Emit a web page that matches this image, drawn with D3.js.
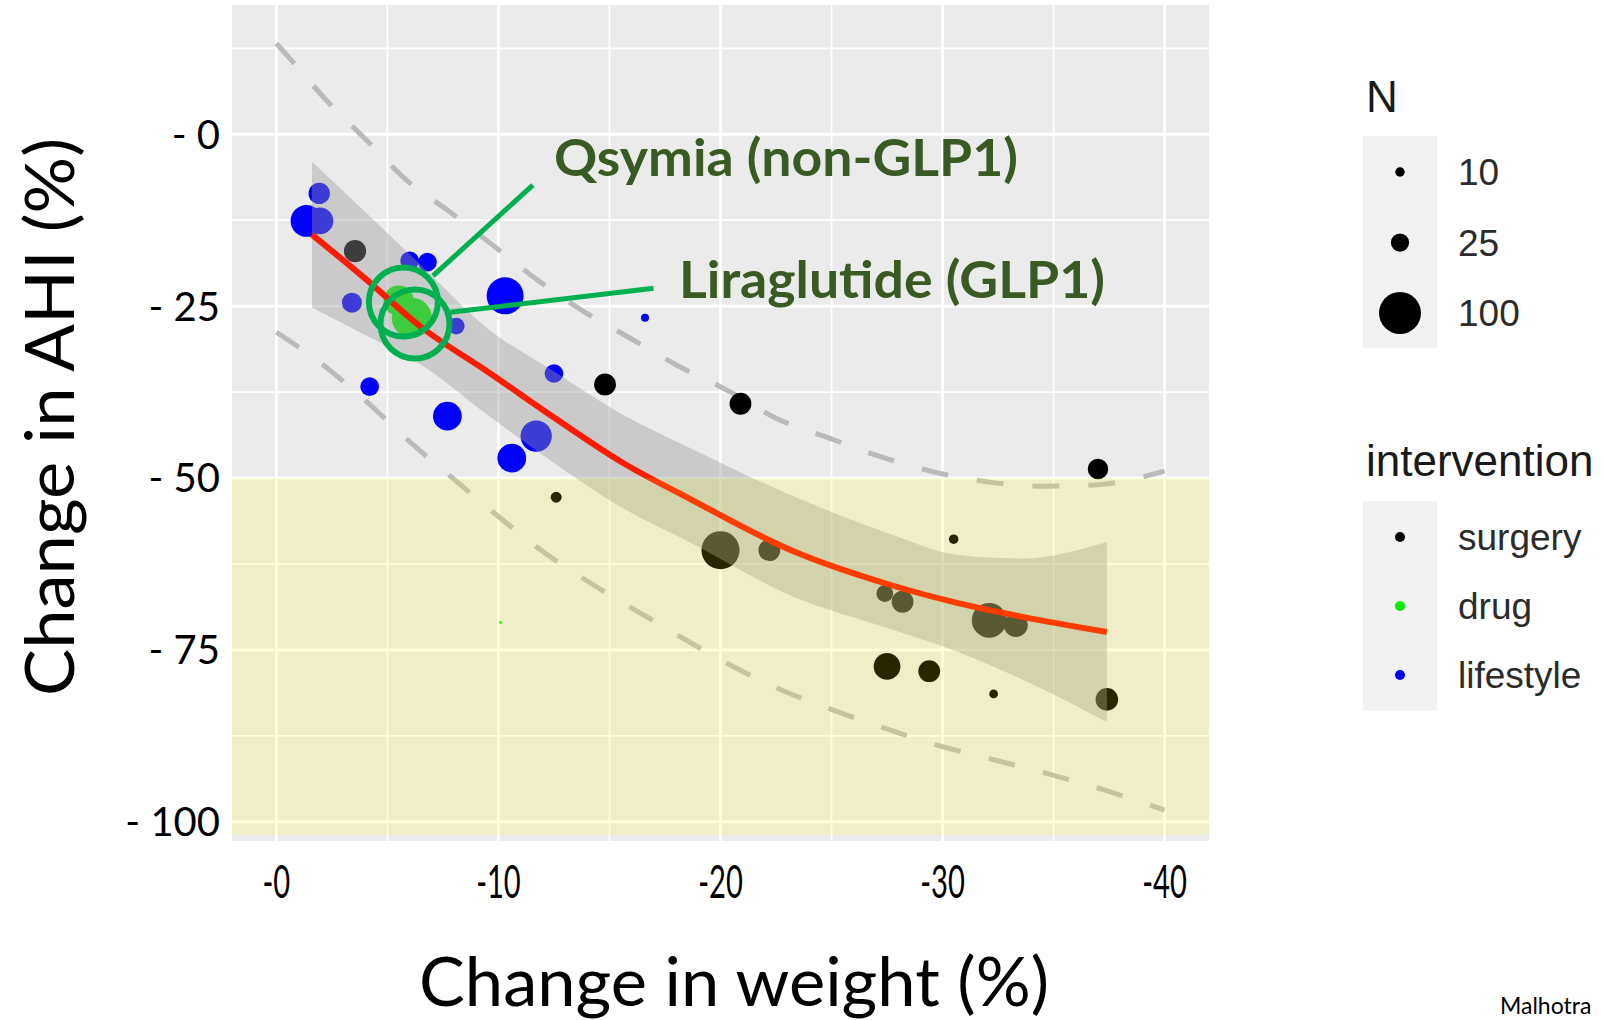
<!DOCTYPE html>
<html>
<head>
<meta charset="utf-8">
<script src="https://cdn.jsdelivr.net/npm/d3@7"></script>
<style>
body { margin: 0; background: #fff; }
svg { display: block; }
</style>
</head>
<body>
<svg id="chart" width="1604" height="1020"></svg>
<script>

// studies: [weight change %, AHI change %, N]
var lifestyle = [[-1.36,-12.6,62],[-1.96,-12.6,46],[-1.93,-8.6,32],[-3.4,-24.5,29],[-6.0,-18.4,26],[-6.8,-18.6,26],
    [-8.1,-27.9,22],[-10.3,-23.5,80],[-4.2,-36.7,26],[-16.6,-26.7,8],[-12.5,-34.8,26],[-7.7,-41.0,52],
    [-11.7,-43.9,60],[-10.6,-47.1,52]];
var surgery = [[-3.54,-17.0,34],[-14.8,-36.4,33],[-12.6,-52.8,12],[-20.0,-60.5,84],[-22.2,-60.5,33],[-20.9,-39.2,33],
    [-37.0,-48.7,30],[-30.5,-58.9,10],[-27.4,-66.8,22],[-28.2,-68.0,33],[-32.1,-70.7,72],[-33.3,-71.4,38],
    [-27.5,-77.4,46],[-29.4,-78.1,33],[-32.3,-81.4,9],[-37.4,-82.2,35]];
var drug = [[-5.5,-24.2,56],[-6.1,-26.7,92],[-10.1,-71.0,3]];

// smooth fit and its band
var fitX  = [-1.6, -4, -6.5, -9.5, -12.5, -15.5, -18.6, -23.1, -27.7, -30.7, -33.6, -37.4];
var fitY  = [-14.6, -21.0, -28.0, -34.5, -41.2, -47.6, -53.0, -60.4, -65.6, -68.2, -70.2, -72.4];
var fitLo = [-25.2, -29.2, -33.5, -40.8, -47.8, -54.2, -59.3, -67.0, -72.0, -75.3, -79.3, -85.5];
var fitHi = [-4.0, -11.3, -19.0, -28.2, -34.5, -40.6, -45.6, -52.4, -58.2, -61.2, -61.7, -59.3];

// prediction bounds (dashed)
var upX = [0, -0.53, -2.26, -4.07, -5.87, -7.81, -9.77, -11.8, -13.9, -15.9, -18.1, -20.4, -22.5, -24.9, -27.2, -29.6, -32.1, -34.5, -36.9, -40];
var upY = [13.2, 11.3, 4.9, -0.9, -6.7, -11.3, -16.2, -21.3, -25.9, -29.6, -33.7, -37.4, -41.3, -44.2, -46.9, -49.1, -50.6, -51.2, -51.0, -49.0];
var loX = [0, -2, -4, -6, -8, -10, -12, -14.5, -17, -20.5, -22.8, -25.1, -27.4, -29.8, -32.2, -34.6, -36.9, -40];
var loY = [-28.8, -33.3, -38.7, -44.7, -50.2, -55.6, -60.7, -66.0, -70.8, -77.3, -80.9, -83.8, -86.4, -88.9, -90.9, -92.9, -95.0, -98.3];

var xTicks = [0, -10, -20, -30, -40];
var yTicks = [0, -25, -50, -75, -100];
var sizeKeys = [10, 25, 100];
var groups = ["surgery", "drug", "lifestyle"];
var groupColours = ["#000000", "#00ee00", "#0000ff"];

var svg = d3.select("#chart");

var x = d3.scaleLinear().domain([2, -42]).range([232, 1209]);
var y = d3.scaleLinear().domain([18.8, -102.8]).range([5, 841]);
var r = d3.scaleSqrt().domain([4, 100]).range([2, 21]);
var colour = d3.scaleOrdinal().domain(groups).range(groupColours);

svg.append("clipPath").attr("id", "panel")
    .append("rect")
    .attr("x", x(2)).attr("y", y(18.8))
    .attr("width", x(-42) - x(2)).attr("height", y(-102.8) - y(18.8));

var panel = svg.append("g").attr("clip-path", "url(#panel)");

panel.append("rect")
    .attr("x", x(2)).attr("y", y(18.8))
    .attr("width", x(-42) - x(2)).attr("height", y(-102.8) - y(18.8))
    .attr("fill", "#ebebeb");

// grid
var xMinor = [-5, -15, -25, -35];
var yMinor = [12.5, -12.5, -37.5, -62.5, -87.5];

panel.selectAll(".vminor").data(xMinor).enter().append("line")
    .attr("x1", d => x(d)).attr("x2", d => x(d))
    .attr("y1", y(18.8)).attr("y2", y(-102.8))
    .attr("stroke", "#fff").attr("stroke-width", 1.8);
panel.selectAll(".hminor").data(yMinor).enter().append("line")
    .attr("y1", d => y(d)).attr("y2", d => y(d))
    .attr("x1", x(2)).attr("x2", x(-42))
    .attr("stroke", "#fff").attr("stroke-width", 1.8);
panel.selectAll(".vmajor").data(xTicks).enter().append("line")
    .attr("x1", d => x(d)).attr("x2", d => x(d))
    .attr("y1", y(18.8)).attr("y2", y(-102.8))
    .attr("stroke", "#fff").attr("stroke-width", 2.8);
panel.selectAll(".hmajor").data(yTicks).enter().append("line")
    .attr("y1", d => y(d)).attr("y2", d => y(d))
    .attr("x1", x(2)).attr("x2", x(-42))
    .attr("stroke", "#fff").attr("stroke-width", 2.8);

// dashed bounds
var line = d3.line().x(d => x(d[0])).y(d => y(d[1])).curve(d3.curveMonotoneX);

[d3.zip(upX, upY), d3.zip(loX, loY)].forEach(function (pts) {
    panel.append("path")
        .attr("d", line(pts))
        .attr("fill", "none")
        .attr("stroke", "#bababa")
        .attr("stroke-width", 5)
        .attr("stroke-dasharray", "27 29");
});

// points
var points = []
    .concat(lifestyle.map(d => ({ x: d[0], y: d[1], n: d[2], g: "lifestyle" })))
    .concat(surgery.map(d => ({ x: d[0], y: d[1], n: d[2], g: "surgery" })))
    .concat(drug.map(d => ({ x: d[0], y: d[1], n: d[2], g: "drug" })));

panel.append("g")
    .selectAll("circle")
    .data(points)
    .enter()
    .append("circle")
    .attr("cx", d => x(d.x))
    .attr("cy", d => y(d.y))
    .attr("r", d => r(d.n))
    .attr("fill", d => colour(d.g));

// band + fit
var band = d3.zip(fitX, fitLo, fitHi);
var area = d3.area()
    .x(d => x(d[0]))
    .y0(d => y(d[1]))
    .y1(d => y(d[2]))
    .curve(d3.curveMonotoneX);

panel.append("path")
    .attr("d", area(band))
    .attr("fill", "#999999")
    .attr("fill-opacity", 0.4);

panel.append("path")
    .attr("d", line(d3.zip(fitX, fitY)))
    .attr("fill", "none")
    .attr("stroke", "#ff1a00")
    .attr("stroke-width", 6);

// shaded zone below -50
panel.append("rect")
    .attr("x", x(2)).attr("y", y(-50))
    .attr("width", x(-42) - x(2)).attr("height", y(-101.9) - y(-50))
    .attr("fill", "#ffff00")
    .attr("fill-opacity", 0.15);

// axes labels
svg.append("g")
    .selectAll("text")
    .data(yTicks)
    .enter()
    .append("text")
    .attr("x", 220)
    .attr("y", d => y(d))
    .attr("dy", "0.36em")
    .attr("text-anchor", "end")
    .attr("font-family", "Lato, 'Open Sans', sans-serif")
    .attr("font-size", 40)
    .attr("fill", "#000")
    .text(d => "- " + Math.abs(d));

svg.append("g")
    .selectAll("text")
    .data(xTicks)
    .enter()
    .append("text")
    .attr("x", d => x(d))
    .attr("y", 898)
    .attr("text-anchor", "middle")
    .attr("font-family", "Lato, 'Open Sans', sans-serif")
    .attr("font-size", 47)
    .attr("fill", "#000")
    .text(d => "-" + Math.abs(d))
    .each(function () {
        var w = this.getComputedTextLength();
        d3.select(this).attr("textLength", w * 0.62).attr("lengthAdjust", "spacingAndGlyphs");
    });

svg.append("text")
    .attr("x", 734)
    .attr("y", 1006)
    .attr("text-anchor", "middle")
    .attr("font-family", "Lato, 'Open Sans', sans-serif")
    .attr("font-size", 67)
    .attr("textLength", 630)
    .attr("lengthAdjust", "spacingAndGlyphs")
    .text("Change in weight (%)");

svg.append("text")
    .attr("transform", "translate(74,417) rotate(-90)")
    .attr("text-anchor", "middle")
    .attr("font-family", "Lato, 'Open Sans', sans-serif")
    .attr("font-size", 67)
    .attr("textLength", 558)
    .attr("lengthAdjust", "spacingAndGlyphs")
    .text("Change in AHI (%)");

// annotations
var ann = svg.append("g");
var annGreen = "#00b050";

[[-5.72, -24.4], [-6.24, -27.6]].forEach(function (c) {
    ann.append("circle")
        .attr("cx", x(c[0])).attr("cy", y(c[1])).attr("r", 34.5)
        .attr("fill", "none").attr("stroke", annGreen).attr("stroke-width", 6);
});

ann.append("line")
    .attr("x1", x(-11.55)).attr("y1", y(-7.4))
    .attr("x2", x(-7.05)).attr("y2", y(-20.6))
    .attr("stroke", annGreen).attr("stroke-width", 5);
ann.append("line")
    .attr("x1", x(-16.98)).attr("y1", y(-22.4))
    .attr("x2", x(-7.84)).attr("y2", y(-25.9))
    .attr("stroke", annGreen).attr("stroke-width", 5);

ann.append("text")
    .attr("x", 554).attr("y", 176)
    .attr("font-family", "Lato, 'Open Sans', sans-serif")
    .attr("font-weight", "bold")
    .attr("font-size", 51)
    .attr("fill", "#3a5a24")
    .attr("textLength", 464)
    .attr("lengthAdjust", "spacingAndGlyphs")
    .text("Qsymia (non-GLP1)");

ann.append("text")
    .attr("x", 679).attr("y", 298)
    .attr("font-family", "Lato, 'Open Sans', sans-serif")
    .attr("font-weight", "bold")
    .attr("font-size", 51)
    .attr("fill", "#3a5a24")
    .attr("textLength", 426)
    .attr("lengthAdjust", "spacingAndGlyphs")
    .text("Liraglutide (GLP1)");

// legends
var leg = svg.append("g").attr("font-family", "'Liberation Sans', Arial, sans-serif");

leg.append("text").attr("x", 1366).attr("y", 112)
    .attr("font-size", 44).attr("fill", "#1a1a1a").text("N");
leg.append("rect").attr("x", 1363).attr("y", 136).attr("width", 74).attr("height", 212).attr("fill", "#f2f2f2");

var sizeY = d3.scalePoint().domain(sizeKeys).range([172, 313]);
leg.selectAll(".sk").data(sizeKeys).enter().append("circle")
    .attr("cx", 1400).attr("cy", d => sizeY(d)).attr("r", d => r(d)).attr("fill", "#000");
leg.selectAll(".sl").data(sizeKeys).enter().append("text")
    .attr("x", 1458).attr("y", d => sizeY(d)).attr("dy", "0.36em")
    .attr("font-size", 37).attr("fill", "#2b2b2b").text(d => d);

leg.append("text").attr("x", 1366).attr("y", 476)
    .attr("font-size", 44).attr("fill", "#1a1a1a").text("intervention");
leg.append("rect").attr("x", 1363).attr("y", 501).attr("width", 74).attr("height", 210).attr("fill", "#f2f2f2");

var groupY = d3.scalePoint().domain(groups).range([537, 675]);
leg.selectAll(".gk").data(groups).enter().append("circle")
    .attr("cx", 1400).attr("cy", d => groupY(d)).attr("r", 5).attr("fill", d => colour(d));
leg.selectAll(".gl").data(groups).enter().append("text")
    .attr("x", 1458).attr("y", d => groupY(d)).attr("dy", "0.36em")
    .attr("font-size", 37).attr("fill", "#2b2b2b").text(d => d);

// source note
svg.append("text").attr("x", 1500).attr("y", 1014)
    .attr("font-family", "Lato, 'Open Sans', sans-serif")
    .attr("font-size", 23).attr("fill", "#000")
    .text("Malhotra");

</script>
</body>
</html>
